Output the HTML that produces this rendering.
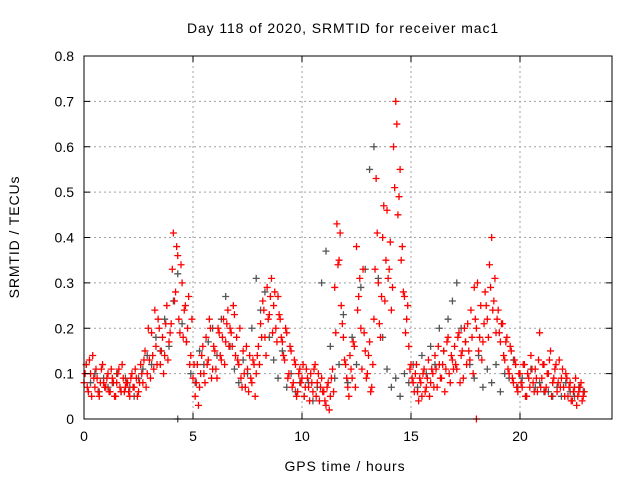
<!DOCTYPE html>
<html><head><meta charset="utf-8"><style>
body{margin:0;background:#fff;}
svg text{font-family:"Liberation Sans",sans-serif;font-size:14px;fill:#000;}
svg text.ttl{letter-spacing:0.9px;}
</style></head><body>
<svg id="chart" width="640" height="480" viewBox="0 0 640 480" xmlns="http://www.w3.org/2000/svg">
<rect width="640" height="480" fill="#fff"/>
<g id="grid"></g><g id="marks"></g><g id="axes"></g>
</svg>
<script>
const xTicks=[0,5,10,15,20];
const yTicks=[0,0.1,0.2,0.3,0.4,0.5,0.6,0.7,0.8];
const yTickLabels=["0","0.1","0.2","0.3","0.4","0.5","0.6","0.7","0.8"];
const redAStart=0, redAStep=0.1;
const redA=[.08,.12,.06,.10,.14,.07,.09,.05,.11,.08,
.07,.10,.06,.09,.05,.08,.11,.06,.09,.07,
.08,.05,.10,.07,.09,.06,.12,.08,.15,.10,
.13,.19,.11,.16,.22,.12,.18,.14,.25,.17,
.21,.41,.28,.36,.19,.30,.24,.17,.27,.14,
.09,.05,.12,.07,.14,.10,.18,.13,.20,.11,
.15,.09,.19,.13,.22,.17,.24,.20,.16,.23,
.18,.12,.09,.15,.07,.11,.14,.08,.12,.10,
.16,.21,.26,.18,.29,.23,.31,.25,.20,.27,
.22,.17,.13,.19,.10,.15,.08,.12,.06,.11,
.09,.05,.11,.07,.10,.06,.12,.08,.04,.09,
.06,.03,.08,.05,.11,.29,.43,.35,.25,.18,
.12,.07,.14,.09,.16,.38,.27,.20,.33,.15,
.10,.17,.07,.22,.53,.30,.18,.40,.26,.46,
.33,.24,.60,.70,.45,.55,.38,.27,.22,.16,
.12,.08,.10,.06,.09,.05,.11,.07,.13,.08,
.10,.14,.07,.12,.09,.15,.11,.18,.08,.13,
.16,.11,.19,.14,.09,.17,.21,.13,.18,.29,
.20,.15,.25,.17,.28,.22,.34,.40,.26,.19,
.24,.17,.21,.13,.18,.10,.15,.08,.12,.06,
.10,.07,.12,.05,.09,.14,.08,.11,.06,.19,
.09,.12,.07,.10,.15,.08,.11,.06,.13,.09,
.07,.10,.05,.08,.04,.07,.03,.06,.08,.05];
const redBStart=0.05, redBStep=0.1;
const redB=[.10,.07,.13,.05,.09,.11,.06,.08,.12,.07,
.09,.06,.11,.08,.05,.10,.07,.12,.06,.08,
.06,.09,.07,.11,.05,.08,.10,.13,.07,.20,
.09,.14,.24,.12,.20,.15,.10,.21,.13,.19,
.33,.26,.38,.22,.34,.18,.25,.20,.12,.22,
.12,.08,.03,.10,.16,.08,.12,.22,.09,.16,
.11,.20,.14,.18,.12,.21,.16,.19,.25,.14,
.13,.20,.07,.10,.16,.06,.09,.13,.05,.14,
.12,.18,.24,.14,.22,.27,.19,.28,.17,.23,
.18,.14,.20,.09,.16,.07,.13,.05,.10,.08,
.12,.07,.09,.04,.08,.11,.05,.10,.07,.06,
.04,.07,.02,.09,.06,.19,.34,.41,.21,.13,
.09,.05,.11,.17,.07,.24,.31,.11,.19,.09,
.14,.06,.12,.33,.41,.21,.27,.47,.35,.31,
.39,.29,.51,.65,.49,.35,.28,.19,.25,.11,
.09,.06,.12,.04,.08,.10,.06,.09,.05,.11,
.07,.11,.16,.09,.12,.06,.17,.10,.14,.11,
.12,.18,.08,.15,.20,.12,.15,.24,.10,.22,
.30,.18,.13,.21,.25,.18,.29,.24,.31,.22,
.19,.21,.14,.17,.11,.16,.09,.13,.07,.10,
.08,.12,.05,.10,.07,.11,.06,.09,.13,.07,
.12,.06,.10,.13,.05,.09,.12,.08,.07,.11,
.05,.09,.07,.04,.06,.09,.05,.07,.04,.06];
const grayStart=0.1, grayStep=0.2;
const gray=[.12,.08,.10,.06,.09,.07,.08,.10,.06,.09,
.07,.05,.09,.11,.14,.12,.18,.15,.22,.16,
.26,.32,.21,.17,.10,.08,.15,.12,.17,.20,
.14,.22,.27,.16,.11,.08,.13,.10,.20,.31,
.24,.28,.18,.13,.09,.15,.07,.10,.06,.08,
.05,.08,.04,.07,.30,.37,.16,.09,.12,.23,
.08,.18,.12,.29,.33,.55,.60,.31,.18,.11,
.07,.09,.05,.10,.08,.12,.07,.14,.10,.16,
.12,.20,.15,.22,.26,.30,.20,.17,.12,.09,
.14,.07,.11,.08,.12,.06,.10,.09,.13,.07,
.09,.05,.11,.07,.08,.06,.06,.05,.07,.05,
.08,.06,.05,.07,.06];
const extraX=[4.3,18.0], extraY=[0,0], extraColor=["#555","#f00"];

const L=84,R=612,T=56,B=419,XMAX=24.22,YMAX=0.8;
const sx=v=>L+v/XMAX*(R-L), sy=v=>B-v/YMAX*(B-T);
const NS="http://www.w3.org/2000/svg";
const mk=(tag,attrs,parent)=>{const e=document.createElementNS(NS,tag);for(const k in attrs)e.setAttribute(k,attrs[k]);parent.appendChild(e);return e;};
const grid=document.getElementById('grid'),marks=document.getElementById('marks'),axes=document.getElementById('axes');
yTicks.forEach((v,i)=>{
 if(i>0&&i<yTicks.length-1){const g=mk('line',{x1:L,x2:R,y1:sy(v),y2:sy(v),stroke:'#a0a0a0','stroke-dasharray':'2,3'},grid);
 
 }
 const t=mk('text',{x:L-10,y:sy(v)+5,'text-anchor':'end'},axes);t.textContent=yTickLabels[i];
 
 
 mk('line',{x1:L,x2:L+6,y1:sy(v),y2:sy(v),stroke:'#000'},axes);
 mk('line',{x1:R,x2:R-6,y1:sy(v),y2:sy(v),stroke:'#000'},axes);
});
xTicks.forEach(v=>{
 if(v>0){const g=mk('line',{x1:sx(v),x2:sx(v),y1:T,y2:B,stroke:'#a0a0a0','stroke-dasharray':'2,3'},grid);
 
 }
 const t=mk('text',{x:sx(v),y:B+22,'text-anchor':'middle'},axes);t.textContent=String(v);
 
 
 mk('line',{x1:sx(v),x2:sx(v),y1:B,y2:B-6,stroke:'#000'},axes);
 mk('line',{x1:sx(v),x2:sx(v),y1:T,y2:T+6,stroke:'#000'},axes);
});
const frame=mk('rect',{x:L,y:T,width:R-L,height:B-T,fill:'none',stroke:'#000'},axes);


function plus(x,y,color,name){
 const p=mk('path',{d:`M${sx(x)-3.5},${sy(y)}h7M${sx(x)},${sy(y)-3.5}v7`,stroke:color,'stroke-width':1.3,fill:'none'},marks);
 
 
}
gray.forEach((v,i)=>plus(grayStart+i*grayStep,v,'#555','gray-point'));
redA.forEach((v,i)=>plus(redAStart+i*redAStep,v,'#f00','red-point'));
redB.forEach((v,i)=>plus(redBStart+i*redBStep,v,'#f00','red-point'));
extraX.forEach((x,i)=>plus(x,extraY[i],extraColor[i],'axis-point'));
const add=(txt,attrs,name)=>{const t=mk('text',attrs,axes);t.textContent=txt;
 
 };
add('Day 118 of 2020, SRMTID for receiver mac1',{x:343,y:33,'text-anchor':'middle','class':'ttl'},'chart-title');
add('GPS time / hours',{x:345,y:471,'text-anchor':'middle','class':'ttl'},'x-axis-title');
add('SRMTID / TECUs',{x:19,y:237,'text-anchor':'middle','class':'ttl',transform:'rotate(-90 19 237)'},'y-axis-title');
</script>
</body></html>
